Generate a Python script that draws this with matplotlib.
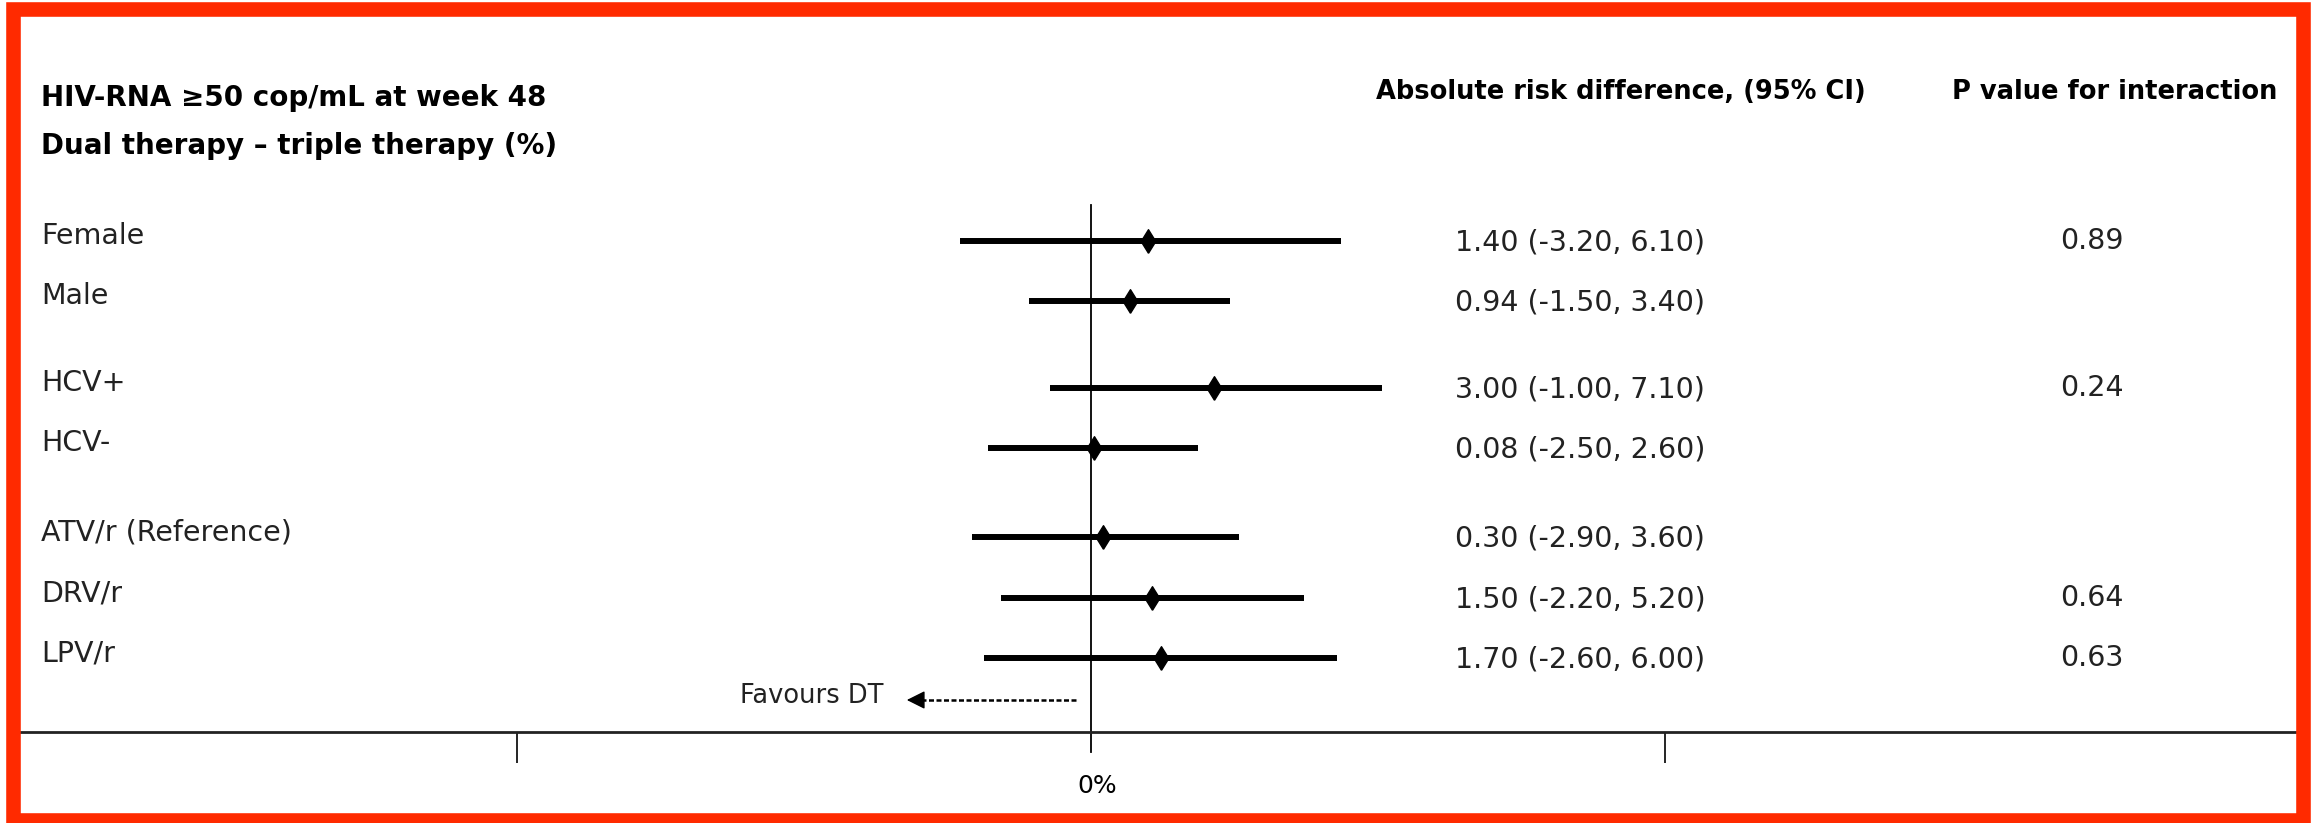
# forest plot: HIV-RNA >=50 cop/mL at week 48 (dual vs triple therapy)

import matplotlib
matplotlib.use("Agg")
import matplotlib.pyplot as plt
from matplotlib.patches import Rectangle
from matplotlib.transforms import blended_transform_factory

# datos
subgroups = ["Female", "Male", "HCV+", "HCV-", "ATV/r (Reference)", "DRV/r", "LPV/r"]
estimates = [1.40, 0.94, 3.00, 0.08, 0.30, 1.50, 1.70]
ci_low = [-3.20, -1.50, -1.00, -2.50, -2.90, -2.20, -2.60]
ci_high = [6.10, 3.40, 7.10, 2.60, 3.60, 5.20, 6.00]
p_interaction = ["0.89", "", "0.24", "", "", "0.64", "0.63"]

title_lines = ["HIV-RNA \u226550 cop/mL at week 48", "Dual therapy \u2013 triple therapy (%)"]
col_headers = ["Absolute risk difference, (95% CI)", "P value for interaction"]

# layout (pixels of the 2315x823 canvas)
W, H = 2315, 823
row_pos = [0, 1, 2.45, 3.45, 4.93, 5.95, 6.95]
FONT = ["DejaVu Sans"]

def fx(x):
    return x / W

def fy(y):
    return 1 - y / H

plt.rcParams["font.family"] = FONT

fig = plt.figure(figsize=(W / 100, H / 100), dpi=100)

# marco rojo
fig.patches.append(Rectangle((fx(12.5), fy(820)), fx(2302.5) - fx(12.5), fy(8.5) - fy(820),
                             transform=fig.transFigure, fill=False,
                             edgecolor="#ff2a00", linewidth=10.5))

ax_bottom = 732
ax = fig.add_axes([fx(19), fy(ax_bottom), fx(2295) - fx(19), fy(205) - fy(ax_bottom)])
px_unit = 41.0
x_zero = 1091
ax.set_xlim((19 - x_zero) / px_unit, (2295 - x_zero) / px_unit)
ax.set_ylim((ax_bottom - 241) / 60, (205 - 241) / 60)
ax.patch.set_alpha(0)

for s in ["top", "left", "right"]:
    ax.spines[s].set_visible(False)
ax.spines["bottom"].set_linewidth(2)
ax.spines["bottom"].set_color("#222222")

ax.set_yticks([])
ax.set_xticks([-14, 14])
ax.set_xticklabels(["", ""])
ax.tick_params(axis="x", which="major", direction="out", length=22, width=1.2)
ax.set_xticks([0.15], minor=True)
ax.set_xticklabels(["0%"], minor=True, fontsize=18)
ax.tick_params(axis="x", which="minor", length=0, pad=30)

# linea de referencia
ax.axvline(0, ymin=-20 / (ax_bottom - 205), ymax=1, color="black", lw=1.3, clip_on=False)

# intervalos y estimaciones
ax.hlines(row_pos, ci_low, ci_high, color="black", lw=4.3)
diamond = [(0, -1), (0.62, 0), (0, 1), (-0.62, 0), (0, -1)]
ax.plot(estimates, row_pos, ls="none", marker=diamond, ms=17, color="black", zorder=3)

# textos de filas
tr = blended_transform_factory(fig.transFigure, ax.transData)
for y, name, e, lo, hi, p in zip(row_pos, subgroups, estimates, ci_low, ci_high, p_interaction):
    ax.text(fx(41), y - 0.08, name, transform=tr, ha="left", va="center", fontsize=20.5, color="#222222")
    ax.text(fx(1455), y + 0.02, f"{e:.2f} ({lo:.2f}, {hi:.2f})", transform=tr,
            ha="left", va="center", fontsize=20.5, color="#222222")
    if p:
        ax.text(fx(2092), y, p, transform=tr, ha="center", va="center", fontsize=20.5, color="#222222")

# encabezados
fig.text(fx(41), fy(98), title_lines[0], ha="left", va="center", fontsize=20, fontweight="bold")
fig.text(fx(41), fy(146), title_lines[1], ha="left", va="center", fontsize=20, fontweight="bold")
fig.text(fx(1376), fy(92), col_headers[0], ha="left", va="center", fontsize=18.5, fontweight="bold")
fig.text(fx(1952), fy(92), col_headers[1], ha="left", va="center", fontsize=18.5, fontweight="bold")

# Favours DT
y_fav = (700 - 241) / 60
ax.text(-5.05, y_fav - 0.07, "Favours DT", ha="right", va="center", fontsize=18.5, color="#222222")
ax.plot([-0.37, -4.2], [y_fav, y_fav], color="black", lw=1.8, ls=(0, (2, 1)))
ax.annotate("", xy=(-4.56, y_fav), xytext=(-4.1, y_fav),
            arrowprops=dict(arrowstyle="-|>", color="black", lw=1, mutation_scale=28))

fig.savefig("out.png", dpi=100)
